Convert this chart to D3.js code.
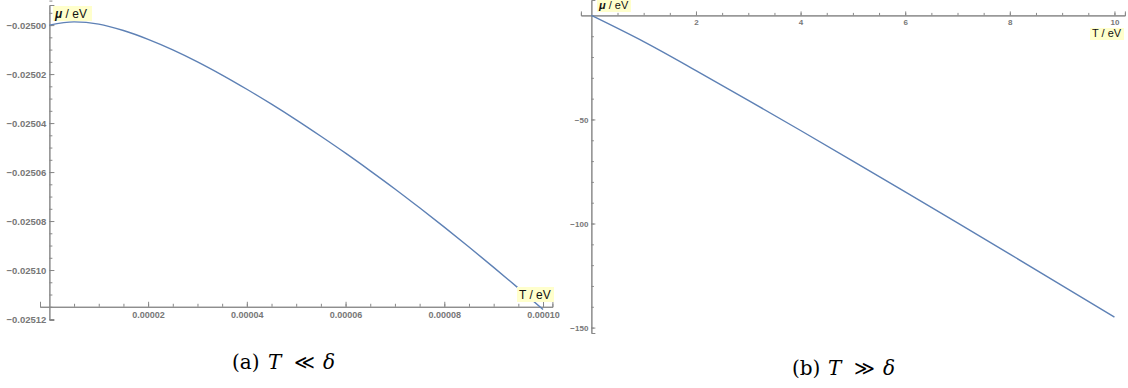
<!DOCTYPE html>
<html>
<head>
<meta charset="utf-8">
<script src="https://cdn.jsdelivr.net/npm/d3@7"></script>
<style>
  body { margin: 0; background: #fff; }
  svg { display: block; }
  .tick text { font-family: "Liberation Sans", Arial, sans-serif; font-weight: bold; fill: #777; }
</style>
</head>
<body>
<div id="chart"></div>
<script>
// (a) T << delta : T in eV, mu in eV
const tSmall = [0, 0.000005, 0.00001, 0.000015, 0.00002, 0.000025, 0.00003, 0.000035, 0.00004,
  0.000045, 0.00005, 0.000055, 0.00006, 0.000065, 0.00007, 0.000075, 0.00008, 0.000085,
  0.00009, 0.000095, 0.0001];
const muSmall = [-0.0250000, -0.0249987, -0.0249996, -0.0250022, -0.0250058, -0.0250101,
  -0.0250150, -0.0250204, -0.0250262, -0.0250323, -0.0250387, -0.0250454, -0.0250523,
  -0.0250595, -0.0250669, -0.0250746, -0.0250825, -0.0250906, -0.0250989, -0.0251074,
  -0.0251161];
const xTicksSmall = [0.00002, 0.00004, 0.00006, 0.00008, 0.0001];
const yTicksSmall = [-0.025, -0.02502, -0.02504, -0.02506, -0.02508, -0.0251, -0.02512];

// (b) T >> delta
const tLarge = [0, 1, 2, 3, 4, 5, 6, 7, 8, 9, 10];
const muLarge = [0, -12.6, -26.5, -40.8, -55.3, -70.0, -84.8, -99.7, -114.7, -129.8, -145.0];
const xTicksLarge = [2, 4, 6, 8, 10];
const yTicksLarge = [-50, -100, -150];

const lineColor = '#5e81b5';
const axisColor = '#888';
const labelBg = '#ffffcc';

const svg = d3.select('#chart').append('svg')
  .attr('width', 1128)
  .attr('height', 388);

function range(a, b, step) {
  const out = [];
  for (let v = a; v <= b + step * 1e-6; v += step) out.push(+v.toPrecision(10));
  return out;
}

function styleAxis(g) {
  g.selectAll('path.domain').attr('stroke', axisColor);
  g.selectAll('.tick line').attr('stroke', axisColor);
}

function axisLabel(g, x, y, w, h, size, italicBold) {
  const lg = g.append('g').attr('transform', `translate(${x},${y})`);
  lg.append('rect').attr('width', w).attr('height', h).attr('fill', labelBg);
  const t = lg.append('text')
    .attr('x', 2).attr('y', h - 3)
    .style('font-family', '"Liberation Sans", Arial, sans-serif')
    .style('font-size', size + 'px')
    .attr('fill', '#111');
  if (italicBold) {
    t.append('tspan').text('μ').style('font-weight', 'bold').style('font-style', 'italic');
    t.append('tspan').text(' / eV');
  } else {
    t.text('T / eV');
  }
}

// ---------- panel (a) ----------
const xA = d3.scaleLinear().domain([-0.0000019, 0.0001019]).range([40, 552.4]);
const yA = d3.scaleLinear().domain([-0.0251204, -0.0249918]).range([320, 5]);
const gA = svg.append('g');
const axisYA = -0.025115;

const xMinorA = gA.append('g')
  .attr('transform', `translate(0,${yA(axisYA)})`)
  .call(d3.axisBottom(xA).tickValues(range(0.000005, 0.0001, 0.000005)).tickSize(-3).tickFormat(''));
styleAxis(xMinorA);
const xMajorA = gA.append('g')
  .attr('transform', `translate(0,${yA(axisYA)})`)
  .call(d3.axisBottom(xA).tickValues(xTicksSmall).tickSize(-5).tickPadding(5).tickFormat(d3.format('.5f')));
styleAxis(xMajorA);
xMajorA.selectAll('text').style('font-size', '9px');

const yMinorA = gA.append('g')
  .attr('transform', `translate(${xA(0)},0)`)
  .call(d3.axisLeft(yA).tickValues(range(-0.02512, -0.02499, 0.000005)).tickSize(-3).tickFormat(''));
styleAxis(yMinorA);
const yMajorA = gA.append('g')
  .attr('transform', `translate(${xA(0)},0)`)
  .call(d3.axisLeft(yA).tickValues(yTicksSmall).tickSize(-5).tickPadding(3).tickFormat(d3.format('.5f')));
styleAxis(yMajorA);
yMajorA.selectAll('text').style('font-size', '9.5px');

gA.append('path')
  .datum(d3.zip(tSmall, muSmall))
  .attr('fill', 'none')
  .attr('stroke', lineColor)
  .attr('stroke-width', 1.4)
  .attr('d', d3.line().x(d => xA(d[0])).y(d => yA(d[1])).curve(d3.curveMonotoneX));

axisLabel(gA, 53, 6, 39, 15, 12, true);
axisLabel(gA, 517, 287, 37, 15, 12, false);

// ---------- panel (b) ----------
const xB = d3.scaleLinear().domain([-0.2, 10.2]).range([580.9, 1124.9]);
const yB = d3.scaleLinear().domain([-152.6, 7.4]).range([333, 0]);
const gB = svg.append('g');

const xMinorB = gB.append('g')
  .attr('transform', `translate(0,${yB(0)})`)
  .call(d3.axisBottom(xB).tickValues(range(0.5, 10, 0.5)).tickSize(-2.5).tickFormat(''));
styleAxis(xMinorB);
const xMajorB = gB.append('g')
  .attr('transform', `translate(0,${yB(0)})`)
  .call(d3.axisBottom(xB).tickValues(xTicksLarge).tickSize(-4).tickPadding(4).tickFormat(d3.format('d')));
styleAxis(xMajorB);
xMajorB.selectAll('text').style('font-size', '8px');

const yMinorB = gB.append('g')
  .attr('transform', `translate(${xB(0)},0)`)
  .call(d3.axisLeft(yB).tickValues(range(-150, 0, 10)).tickSize(-2.5).tickFormat(''));
styleAxis(yMinorB);
const yMajorB = gB.append('g')
  .attr('transform', `translate(${xB(0)},0)`)
  .call(d3.axisLeft(yB).tickValues(yTicksLarge).tickSize(-4).tickPadding(3).tickFormat(d3.format('d')));
styleAxis(yMajorB);
yMajorB.selectAll('text').style('font-size', '8px');

gB.append('path')
  .datum(d3.zip(tLarge, muLarge))
  .attr('fill', 'none')
  .attr('stroke', lineColor)
  .attr('stroke-width', 1.4)
  .attr('d', d3.line().x(d => xB(d[0])).y(d => yB(d[1])).curve(d3.curveMonotoneX));

axisLabel(gB, 597, -1, 34, 13, 11, true);
axisLabel(gB, 1090, 28, 34, 12, 11, false);

// ---------- captions ----------
function caption(x, y, letter, rel) {
  const c = svg.append('text')
    .attr('transform', `translate(${x},${y})`)
    .style('font-family', '"DejaVu Serif", serif')
    .style('font-size', '20px')
    .attr('fill', '#000');
  c.append('tspan').attr('x', 0).text(`(${letter})`);
  c.append('tspan').attr('x', 36).style('font-style', 'italic').text('T');
  c.append('tspan').attr('x', 62).text(rel);
  c.append('tspan').attr('x', 91).style('font-style', 'italic').text('δ');
}
caption(232, 369, 'a', '≪');
caption(792, 375, 'b', '≫');
</script>
</body>
</html>
